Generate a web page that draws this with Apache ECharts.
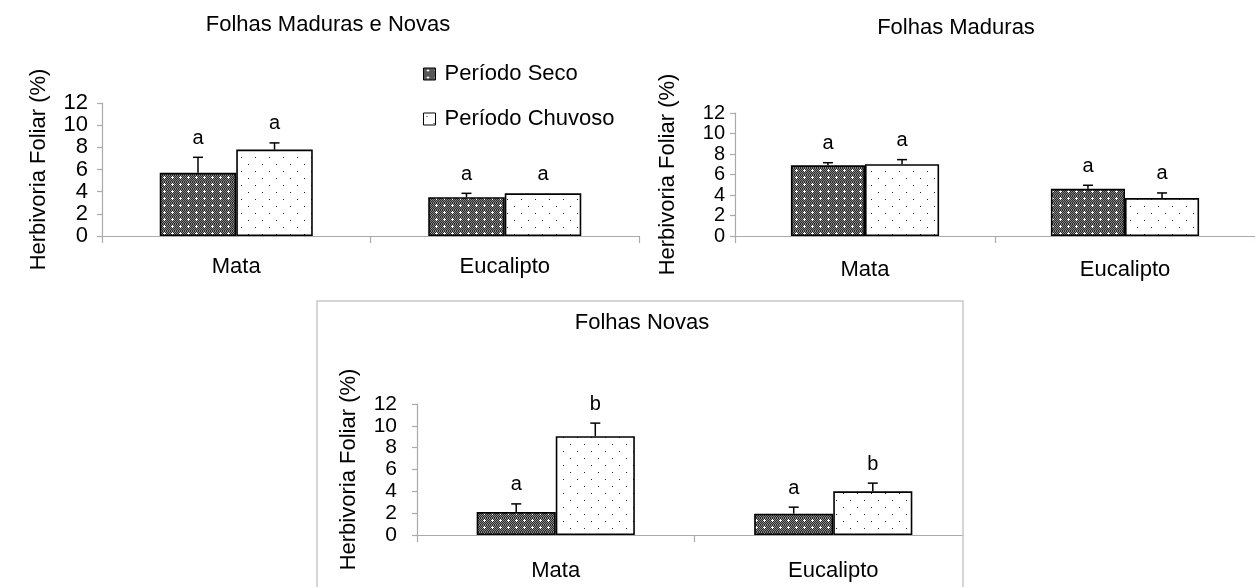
<!DOCTYPE html>
<html>
<head>
<meta charset="utf-8">
<script src="https://cdn.jsdelivr.net/npm/echarts@6/dist/echarts.min.js"></script>
<style>
html,body{margin:0;padding:0;background:#fff;}
#c{width:1255px;height:587px;}
</style>
</head>
<body>
<div id="c"></div>
<script>
// ---- data ----
const categories = ['Mata', 'Eucalipto'];
const seriesNames = ['Período Seco', 'Período Chuvoso'];
const yTicks = [0, 2, 4, 6, 8, 10, 12];

const titles = ['Folhas Maduras e Novas', 'Folhas Maduras', 'Folhas Novas'];
const yAxisName = 'Herbivoria Foliar (%)';

// Panel 1: Folhas Maduras e Novas
const p1Seco = [5.7, 3.5];
const p1SecoErr = [1.4, 0.35];
const p1Chuvoso = [7.8, 3.85];
const p1ChuvosoErr = [0.6, 0];
const p1SecoLetters = ['a', 'a'];
const p1ChuvosoLetters = ['a', 'a'];

// Panel 2: Folhas Maduras
const p2Seco = [6.9, 4.6];
const p2SecoErr = [0.25, 0.35];
const p2Chuvoso = [7.0, 3.7];
const p2ChuvosoErr = [0.45, 0.5];
const p2SecoLetters = ['a', 'a'];
const p2ChuvosoLetters = ['a', 'a'];

// Panel 3: Folhas Novas
const p3Seco = [2.1, 1.95];
const p3SecoErr = [0.75, 0.6];
const p3Chuvoso = [9.05, 4.0];
const p3ChuvosoErr = [1.2, 0.75];
const p3SecoLetters = ['a', 'a'];
const p3ChuvosoLetters = ['b', 'b'];

// ---- patterns ----
function makeSecoPattern() {
  const c = document.createElement('canvas');
  c.width = 8; c.height = 7;
  const g = c.getContext('2d');
  for (let y = 0; y < 7; y++) for (let x = 0; x < 8; x++) {
    g.fillStyle = ((x + y) % 2 === 0) ? '#2a2a2a' : '#858585';
    g.fillRect(x, y, 1, 1);
  }
  g.fillStyle = '#ffffff';
  g.fillRect(3, 2, 3, 1);
  g.fillRect(4, 1, 1, 3);
  return c;
}
function makeChuvosoPattern() {
  const c = document.createElement('canvas');
  c.width = 14; c.height = 14;
  const g = c.getContext('2d');
  g.fillStyle = '#ffffff'; g.fillRect(0, 0, 14, 14);
  g.fillStyle = '#222222';
  g.fillRect(3, 3, 1, 1);
  g.fillRect(10, 10, 1, 1);
  return c;
}
const secoFill = { image: makeSecoPattern(), repeat: 'repeat' };
const chuvosoFill = { image: makeChuvosoPattern(), repeat: 'repeat' };

const FONT = 'Liberation Sans, Arial, sans-serif';
const GAP = 0.43;

const panels = [
  { seco: p1Seco, secoErr: p1SecoErr, chu: p1Chuvoso, chuErr: p1ChuvosoErr, sl: p1SecoLetters, cl: p1ChuvosoLetters,
    grid: { left: 102, right: 616, top: 103, bottom: 351 }, labMargin: 14, labSize: 22, nameGap: 52, catMargin: 20 },
  { seco: p2Seco, secoErr: p2SecoErr, chu: p2Chuvoso, chuErr: p2ChuvosoErr, sl: p2SecoLetters, cl: p2ChuvosoLetters,
    grid: { left: 735, right: -25, top: 113, bottom: 351 }, labMargin: 10, labSize: 20, nameGap: 56, catMargin: 23 },
  { seco: p3Seco, secoErr: p3SecoErr, chu: p3Chuvoso, chuErr: p3ChuvosoErr, sl: p3SecoLetters, cl: p3ChuvosoLetters,
    grid: { left: 417, right: 283, top: 404, bottom: 52 }, labMargin: 20, labSize: 21, nameGap: 57, catMargin: 25 }
];

function errRender(sign, letters) {
  return function (params, api) {
    const xi = api.value(0), v = api.value(1), e = api.value(2);
    const base = api.coord([xi, v]);
    const top = api.coord([xi, v + e]);
    const band = api.size([1, 0])[0];
    const cx = base[0] + sign * band * (1 - GAP) / 4;
    const children = [];
    if (e > 0) {
      children.push({ type: 'line', shape: { x1: cx, y1: base[1], x2: cx, y2: top[1] }, style: { stroke: '#000', lineWidth: 1.5 } });
      children.push({ type: 'line', shape: { x1: cx - 5, y1: top[1], x2: cx + 5, y2: top[1] }, style: { stroke: '#000', lineWidth: 1.5 } });
    }
    children.push({ type: 'text', x: cx, y: top[1] - 19, style: { text: letters[params.dataIndex], font: '20px ' + FONT, fill: '#000', align: 'center', verticalAlign: 'middle' } });
    return { type: 'group', children: children };
  };
}

const grids = [], xAxes = [], yAxes = [], series = [];
panels.forEach((p, i) => {
  grids.push(Object.assign({ containLabel: false }, p.grid));
  xAxes.push({
    type: 'category', gridIndex: i, data: categories,
    axisLine: { lineStyle: { color: '#aaaaaa', width: 1.2 } },
    axisTick: { show: true, length: 7, alignWithLabel: false, lineStyle: { color: '#aaaaaa', width: 1.2 } },
    axisLabel: { color: '#000', fontSize: 22, fontFamily: FONT, margin: p.catMargin, interval: 0 },
    splitLine: { show: false }
  });
  yAxes.push({
    type: 'value', gridIndex: i, min: yTicks[0], max: yTicks[yTicks.length - 1], interval: yTicks[1] - yTicks[0],
    name: yAxisName, nameLocation: 'middle', nameRotate: 90, nameGap: p.nameGap,
    nameTextStyle: { color: '#000', fontSize: 22, fontFamily: FONT },
    axisLine: { show: true, lineStyle: { color: '#aaaaaa', width: 1.2 } },
    axisTick: { show: true, length: 5, lineStyle: { color: '#aaaaaa', width: 1.2 } },
    axisLabel: { color: '#000', fontSize: p.labSize, fontFamily: FONT, margin: p.labMargin,
      showMinLabel: true, showMaxLabel: true, hideOverlap: false },
    splitLine: { show: false }
  });
  const barStyle = (fill) => ({ color: fill, borderColor: '#000', borderWidth: 1.6 });
  series.push({ type: 'bar', name: seriesNames[0], xAxisIndex: i, yAxisIndex: i, data: p.seco,
    barGap: '0%', barCategoryGap: (GAP * 100) + '%', itemStyle: barStyle(secoFill), emphasis: { disabled: true } });
  series.push({ type: 'bar', name: seriesNames[1], xAxisIndex: i, yAxisIndex: i, data: p.chu,
    barGap: '0%', barCategoryGap: (GAP * 100) + '%', itemStyle: barStyle(chuvosoFill), emphasis: { disabled: true } });
  series.push({ type: 'custom', name: 'err' + i + 's', xAxisIndex: i, yAxisIndex: i, z: 5, clip: false,
    renderItem: errRender(-1, p.sl), data: p.seco.map((v, k) => [k, v, p.secoErr[k]]) });
  series.push({ type: 'custom', name: 'err' + i + 'c', xAxisIndex: i, yAxisIndex: i, z: 5, clip: false,
    renderItem: errRender(1, p.cl), data: p.chu.map((v, k) => [k, v, p.chuErr[k]]) });
});

const chart = echarts.init(document.getElementById('c'), null, { renderer: 'canvas' });
chart.setOption({
  backgroundColor: '#ffffff',
  animation: false,
  grid: grids, xAxis: xAxes, yAxis: yAxes, series: series,
  legend: {
    data: seriesNames, orient: 'vertical', left: 423, top: 63, padding: 0,
    itemWidth: 12, itemHeight: 12, itemGap: 23, selectedMode: false,
    icon: 'rect',
    itemStyle: { borderColor: '#000', borderWidth: 1 },
    textStyle: { color: '#000', fontSize: 22, fontFamily: FONT, padding: [0, 0, 0, 4] }
  },
  graphic: [
    { type: 'text', x: 328, y: 25, style: { text: titles[0], font: '22px ' + FONT, fill: '#000', align: 'center', verticalAlign: 'middle' } },
    { type: 'text', x: 956, y: 28, style: { text: titles[1], font: '22px ' + FONT, fill: '#000', align: 'center', verticalAlign: 'middle' } },
    { type: 'text', x: 642, y: 323, style: { text: titles[2], font: '22px ' + FONT, fill: '#000', align: 'center', verticalAlign: 'middle' } },
    { type: 'rect', z: 100, shape: { x: 964, y: 520, width: 14, height: 30 }, style: { fill: '#ffffff' }, silent: true },
    { type: 'polyline', z: 101, shape: { points: [[317, 600], [317, 301], [963, 301], [963, 600]] }, style: { stroke: '#c8c8c8', lineWidth: 1.5, fill: null }, silent: true }
  ]
});
</script>
</body>
</html>
